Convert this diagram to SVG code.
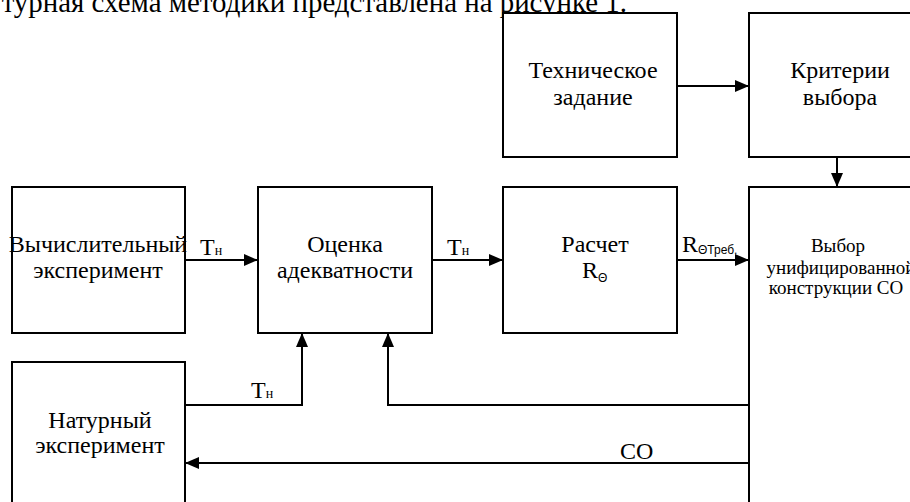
<svg xmlns="http://www.w3.org/2000/svg" width="910" height="502" viewBox="0 0 910 502">
<style>
.box{fill:#fff;stroke:#000;stroke-width:2}
.t{font-family:"Liberation Serif","Times New Roman",serif;font-size:24px;fill:#000;text-anchor:middle}
.s{font-family:"Liberation Serif","Times New Roman",serif;font-size:19px;fill:#000;text-anchor:middle}
.lbl{font-family:"Liberation Serif","Times New Roman",serif;font-size:24px;fill:#000}
.sub{font-size:14px}
.subs{font-family:"Liberation Sans",Arial,sans-serif;font-size:12px}
.c{fill:none;stroke:#000;stroke-width:2}
</style>
<defs>
<marker id="ah" markerUnits="userSpaceOnUse" markerWidth="16" markerHeight="12" refX="14" refY="6" orient="auto">
<path d="M0,0 L14,6 L0,12 Z" fill="#000"/>
</marker>
</defs>
<rect width="910" height="502" fill="#fff"/>
<text x="627" y="12" font-family="'Liberation Serif','Times New Roman',serif" font-size="28.9" text-anchor="end">турная схема методики представлена на рисунке 1.</text>

<g id="tz"><rect class="box" x="503" y="13" width="174" height="144"/>
<text class="t" x="593" y="78">Техническое</text><text class="t" x="593" y="105">задание</text></g>
<g id="kv"><rect class="box" x="749" y="13" width="182" height="144"/>
<text class="t" x="840" y="78">Критерии</text><text class="t" x="840" y="105">выбора</text></g>
<g id="ve"><rect class="box" x="12" y="187" width="173" height="146"/>
<text class="t" x="98" y="252">Вычислительный</text><text class="t" x="98" y="278">эксперимент</text></g>
<g id="oa"><rect class="box" x="258" y="187" width="174" height="146"/>
<text class="t" x="345" y="252">Оценка</text><text class="t" x="345" y="278">адекватности</text></g>
<g id="rr"><rect class="box" x="503" y="187" width="174" height="146"/>
<text class="t" x="595" y="252">Расчет</text><text class="lbl" x="582" y="278">R<tspan class="subs" dy="4">Θ</tspan></text></g>
<g id="vb"><rect class="box" x="749" y="187" width="182" height="330"/>
<text class="s" x="838" y="252">Выбор</text><text class="s" x="841" y="274">унифицированной</text><text class="s" x="836" y="294">конструкции СО</text></g>
<g id="ne"><rect class="box" x="12" y="362" width="173" height="160"/>
<text class="t" x="100" y="428">Натурный</text><text class="t" x="100" y="453">эксперимент</text></g>

<g id="connectors">
<path class="c" d="M677,86 H749" marker-end="url(#ah)"/>
<path class="c" d="M837,157 V187" marker-end="url(#ah)"/>
<path class="c" d="M185,260 H258" marker-end="url(#ah)"/>
<path class="c" d="M432,260 H503" marker-end="url(#ah)"/>
<path class="c" d="M677,260 H749" marker-end="url(#ah)"/>
<path class="c" d="M185,405 H302 V333" marker-end="url(#ah)"/>
<path class="c" d="M749,405 H388 V333" marker-end="url(#ah)"/>
<path class="c" d="M749,463 H185" marker-end="url(#ah)"/>
<text class="lbl" x="200" y="255">T<tspan class="sub">н</tspan></text>
<text class="lbl" x="447" y="255">T<tspan class="sub">н</tspan></text>
<text class="lbl" x="682" y="252">R<tspan class="subs" dy="2">ΘТреб.</tspan></text>
<text class="lbl" x="251" y="398">T<tspan class="sub">н</tspan></text>
<text class="lbl" x="620" y="459">CO</text>
</g>
</svg>
